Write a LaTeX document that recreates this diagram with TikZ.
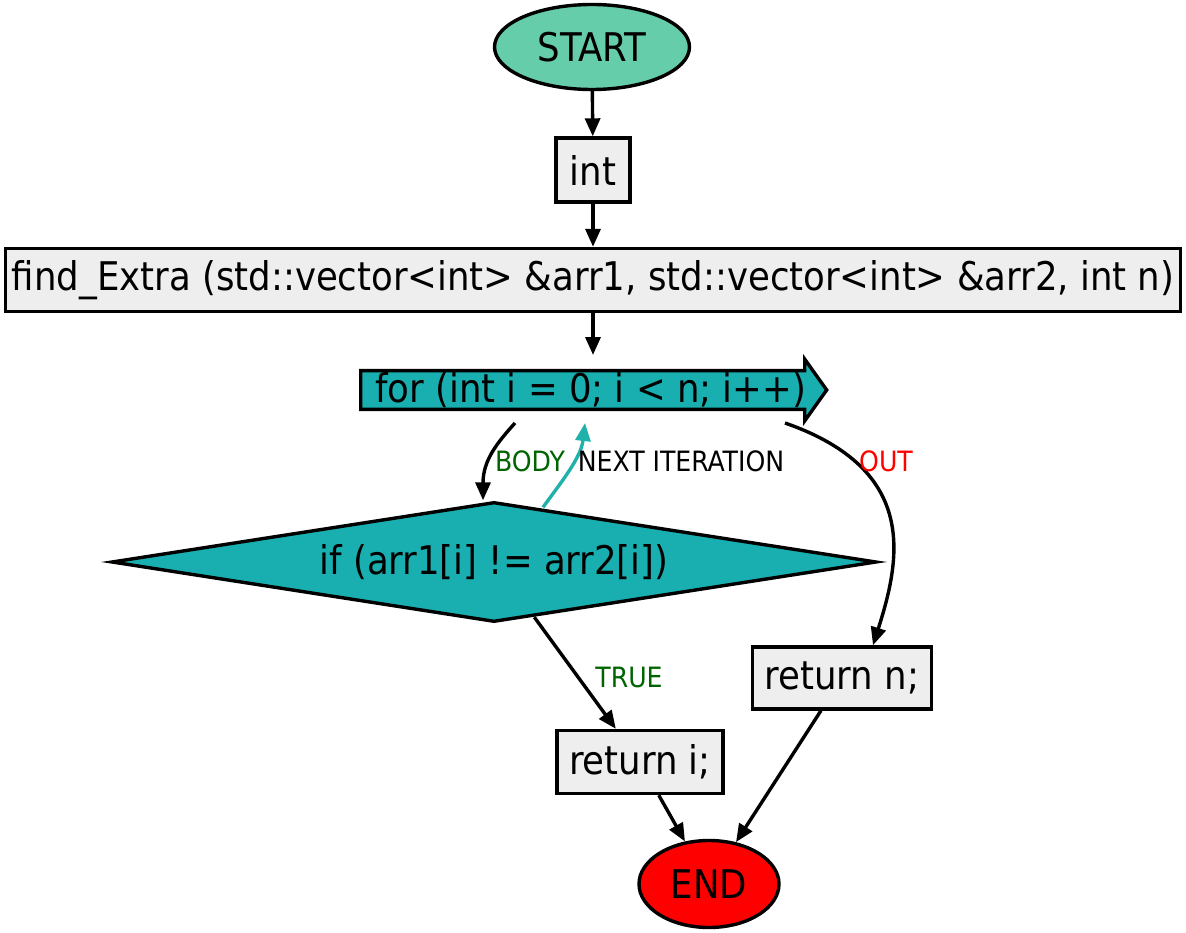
\documentclass[tikz,border=0pt]{standalone}
\usepackage{fontspec}
\setmainfont{DejaVu Sans Condensed}
\usetikzlibrary{shapes,shapes.geometric,shapes.arrows,arrows.meta,positioning,calc}
\definecolor{fcInk}{HTML}{000000}
\definecolor{fcStart}{HTML}{66CDAA}
\definecolor{fcTeal}{HTML}{19AFB0}
\definecolor{fcBox}{HTML}{EEEEEE}
\definecolor{fcEnd}{HTML}{FF0000}
\definecolor{fcGreen}{HTML}{006400}
\definecolor{fcLink}{HTML}{20B2AA}
\tikzset{
  blk/.style={draw=fcInk, fill=fcBox, line width=3.4pt, inner sep=0pt, minimum height=63pt, font=\fontsize{39.5}{42}\selectfont, align=center},
  term/.style={blk, ellipse},
  loopb/.style={blk, fill=fcTeal, single arrow, single arrow head extend=11.5pt, single arrow tip angle=109, single arrow head indent=0pt, minimum height=466pt, minimum width=47pt},
  cond/.style={blk, diamond, fill=fcTeal, aspect=6.375, minimum width=765pt, minimum height=120pt},
  arr/.style={-{Triangle[length=18pt,width=15pt]}, line width=3.4pt, draw=fcInk},
  lbl/.style={font=\fontsize{28}{30}\selectfont, inner sep=1pt},
}
\begin{document}
\begin{tikzpicture}[x=1pt, y=-1pt]
  \useasboundingbox (0,0) rectangle (1186,933);
  \node[term, fill=fcStart, minimum width=195pt, minimum height=85pt] (start) at (592,47) {START};
  \node[blk, minimum width=74pt, minimum height=64pt] (int) at (593,170) {int};
  \node[blk, minimum width=1175pt] (sig) at (593,280) {find\_Extra (std::vector<int> \&arr1, std::vector<int> \&arr2, int n)};
  \node[loopb, anchor=tail] (for) at (359,390) {\hspace*{8pt}for (int i = 0; i < n; i++)};
  \node[cond] (if) at (494,562) {if (arr1[i] != arr2[i])};
  \node[blk, minimum width=166pt] (reti) at (640,762) {return i;};
  \node[blk, minimum width=179pt, minimum height=62pt] (retn) at (842,678) {return n;};
  \node[term, fill=fcEnd, minimum width=140pt, minimum height=87pt] (end) at (709,884) {END};
  % straight links
  \foreach \u/\v in {start/int,int/sig,if/reti,reti/end,retn/end} \draw[arr] (\u) -- (\v);
  \draw[arr] (sig.south) -- ([shift={(234,-35)}]for.tail);
  % loop links
  \draw[arr] ([shift={(156,33)}]for.tail) .. controls +(-18,20) and +(0,-40) .. ([shift={(-11,0)}]if.north);
  \draw[arr, draw=fcLink] ([shift={(49,7)}]if.north) .. controls +(18,-25) and +(-4,35) .. ([shift={(226,33)}]for.tail);
  \draw[arr] ([shift={(426,33)}]for.tail) .. controls +(135,47) and +(27,-85) .. ([shift={(31,0)}]retn.north);
  % labels
  \node[lbl, text=fcGreen] (lbody) at (530,461) {BODY};
  \node[lbl, text=fcInk] (lnext) at (681,461) {NEXT ITERATION};
  \node[lbl, text=fcEnd] (lout) at (886,461) {OUT};
  \node[lbl, text=fcGreen] (ltrue) at (629,677) {TRUE};
\end{tikzpicture}
\end{document}
